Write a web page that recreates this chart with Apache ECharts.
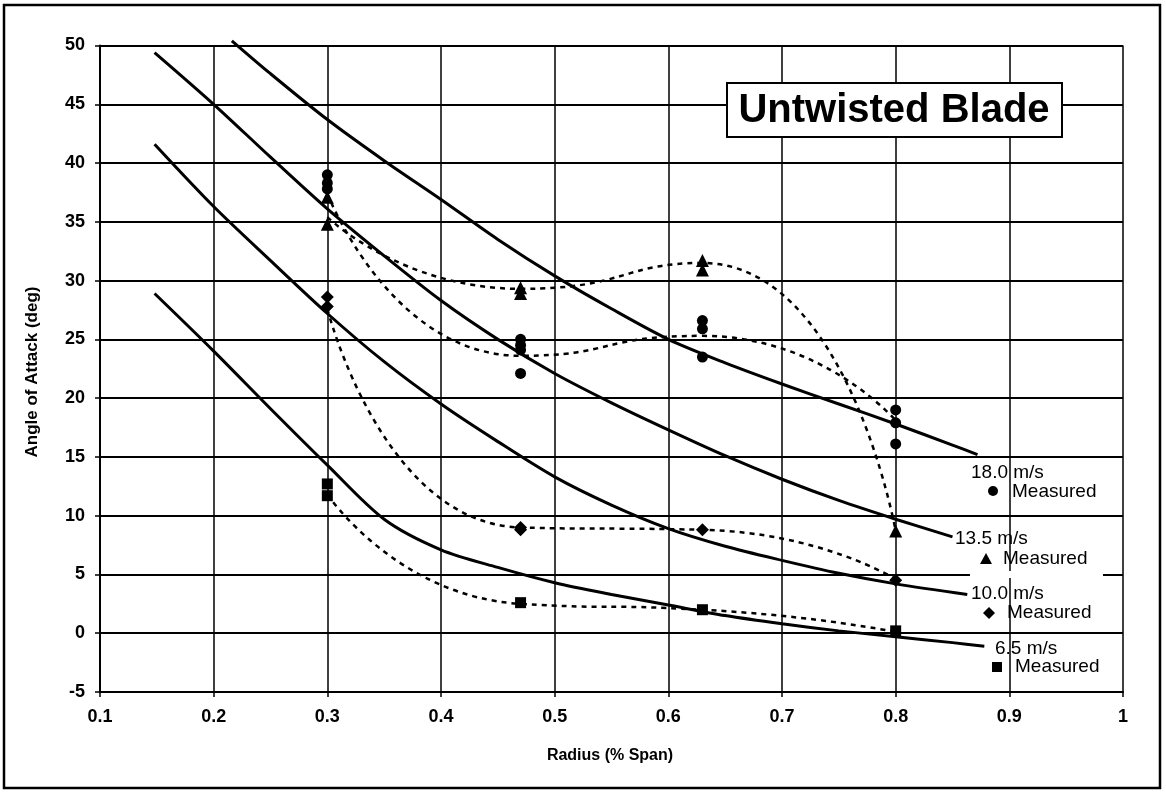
<!DOCTYPE html>
<html>
<head>
<meta charset="utf-8">
<title>Untwisted Blade</title>
<script src="https://cdn.jsdelivr.net/npm/echarts@6/dist/echarts.min.js"></script>
<style>
    html, body { margin: 0; padding: 0; background: #fff; }
    #chart { width: 1166px; height: 793px; }
</style>
</head>
<body>
<div id="chart"></div>
<script>
    //---数据定义区----------------------------------
    // model curves [radius, angle]
    var model180 = [[0.216, 50.4], [0.25, 47.6], [0.3, 43.7], [0.35, 40.2], [0.4, 36.9], [0.45, 33.5], [0.5, 30.4],
        [0.55, 27.6], [0.6, 25.0], [0.65, 23.0], [0.7, 21.2], [0.75, 19.5], [0.8, 17.8], [0.85, 16.0], [0.872, 15.2]];
    var model135 = [[0.148, 49.4], [0.2, 45.0], [0.25, 40.5], [0.3, 36.1], [0.35, 32.1], [0.4, 28.3], [0.45, 25.0],
        [0.5, 22.1], [0.55, 19.6], [0.6, 17.3], [0.65, 15.1], [0.7, 13.1], [0.75, 11.3], [0.8, 9.7], [0.85, 8.2]];
    var model100 = [[0.148, 41.6], [0.2, 36.3], [0.25, 31.7], [0.3, 27.2], [0.35, 23.1], [0.4, 19.5], [0.45, 16.3],
        [0.5, 13.3], [0.55, 10.9], [0.6, 8.9], [0.65, 7.4], [0.7, 6.2], [0.75, 5.1], [0.8, 4.2], [0.863, 3.3]];
    var model65 = [[0.148, 28.9], [0.2, 24.0], [0.25, 19.1], [0.3, 14.3], [0.35, 9.7], [0.4, 7.1], [0.45, 5.6],
        [0.5, 4.3], [0.55, 3.3], [0.6, 2.4], [0.65, 1.5], [0.7, 0.8], [0.75, 0.2], [0.8, -0.3], [0.85, -0.8], [0.878, -1.1]];

    // measured points
    var meas180 = [[0.3, 39.0], [0.3, 38.3], [0.3, 37.8], [0.47, 25.0], [0.47, 24.5], [0.47, 24.1], [0.47, 22.1],
        [0.63, 26.6], [0.63, 25.9], [0.63, 23.5], [0.8, 19.0], [0.8, 17.9], [0.8, 16.1]];
    var meas135 = [[0.3, 37.1], [0.3, 34.8], [0.47, 29.4], [0.47, 28.9], [0.63, 31.7], [0.63, 30.9], [0.8, 8.7]];
    var meas100 = [[0.3, 28.6], [0.3, 27.8], [0.47, 9.0], [0.47, 8.8], [0.63, 8.8], [0.8, 4.5]];
    var meas65 = [[0.3, 12.7], [0.3, 11.7], [0.47, 2.6], [0.63, 2.0], [0.8, 0.2]];

    // dotted trend through measured data
    var trend180 = [[0.3, 37.4], [0.47, 23.6], [0.63, 25.3], [0.8, 18.1]];
    var trend135 = [[0.3, 35.4], [0.47, 29.3], [0.63, 31.5], [0.8, 8.7]];
    var trend100 = [[0.3, 27.6], [0.47, 9.0], [0.63, 8.8], [0.8, 4.6]];
    var trend65 = [[0.3, 11.8], [0.47, 2.5], [0.63, 2.0], [0.8, 0.1]];

    var speedLabels = ['18.0 m/s', '13.5 m/s', '10.0 m/s', '6.5 m/s'];
    var measuredLabel = 'Measured';
    //----------------------------------------------

    //---常量定义区----------------------------------
    var FONT = '"Liberation Sans", Arial, Helvetica, sans-serif';
    var BLACK = '#000';
    //----------------------------------------------

    var _this = {
        modelLine: function (data, clip) {
            return {
                type: 'line', data: data, showSymbol: false, smooth: 0.3, clip: clip,
                lineStyle: { color: BLACK, width: 3 }, z: 3, silent: true
            };
        },
        trendLine: function (data) {
            return {
                type: 'line', data: data, showSymbol: false, smooth: 0.6,
                lineStyle: { color: BLACK, width: 2.5, type: [5, 5] }, z: 2, silent: true
            };
        },
        measured: function (data, symbol, size) {
            return {
                type: 'scatter', data: data, symbol: symbol, symbolSize: size,
                itemStyle: { color: BLACK, opacity: 1 }, z: 4, silent: true
            };
        },
        legendText: function (x, y, str) {
            return {
                type: 'text', x: x, y: y, z: 10,
                style: { text: str, fill: BLACK, font: '19px ' + FONT, textVerticalAlign: 'middle' }
            };
        }
    };

    var initChart = function () {
        var chart = echarts.init(document.getElementById('chart'), null, { renderer: 'canvas' });

        var option = {
            backgroundColor: '#fff',
            animation: false,
            grid: { left: 100, right: 43, top: 45.5, bottom: 101, containLabel: false },
            xAxis: {
                type: 'value', min: 0.1, max: 1, interval: 0.1,
                axisLine: { onZero: false, lineStyle: { color: BLACK, width: 2 } },
                axisTick: { show: true, length: 5, lineStyle: { color: BLACK, width: 1.5 } },
                axisLabel: { color: BLACK, fontFamily: FONT, fontWeight: 'bold', fontSize: 18, margin: 16 },
                splitLine: { show: true, lineStyle: { color: BLACK, width: 1.5 } }
            },
            yAxis: {
                type: 'value', min: -5, max: 50, interval: 5,
                axisLine: { show: true, onZero: false, lineStyle: { color: BLACK, width: 2 } },
                axisTick: { show: true, length: 5, lineStyle: { color: BLACK, width: 1.5 } },
                axisLabel: { color: BLACK, fontFamily: FONT, fontWeight: 'bold', fontSize: 18, margin: 15 },
                splitLine: { show: true, lineStyle: { color: BLACK, width: 2 } }
            },
            series: [
                _this.modelLine(model180, false),
                _this.modelLine(model135, true),
                _this.modelLine(model100, true),
                _this.modelLine(model65, true),
                _this.trendLine(trend180),
                _this.trendLine(trend135),
                _this.trendLine(trend100),
                _this.trendLine(trend65),
                _this.measured(meas180, 'circle', 11),
                _this.measured(meas135, 'triangle', 13),
                _this.measured(meas100, 'diamond', 13),
                _this.measured(meas65, 'rect', 11)
            ],
            graphic: [
                // outer frame
                { type: 'rect', shape: { x: 4, y: 5, width: 1156, height: 783 }, z: 0,
                  style: { fill: 'none', stroke: BLACK, lineWidth: 2.5 } },
                // title box
                { type: 'rect', shape: { x: 727, y: 83, width: 335, height: 54 }, z: 20,
                  style: { fill: '#fff', stroke: BLACK, lineWidth: 2 } },
                { type: 'text', x: 894, y: 111, z: 21,
                  style: { text: 'Untwisted Blade', fill: BLACK, font: 'bold 40px ' + FONT,
                           textAlign: 'center', textVerticalAlign: 'middle' } },
                // axis titles
                { type: 'text', x: 610, y: 756, z: 10,
                  style: { text: 'Radius (% Span)', fill: BLACK, font: 'bold 16px ' + FONT,
                           textAlign: 'center', textVerticalAlign: 'middle' } },
                { type: 'text', x: 32, y: 372, rotation: Math.PI / 2, z: 10,
                  style: { text: 'Angle of Attack (deg)', fill: BLACK, font: 'bold 17px ' + FONT,
                           textAlign: 'center', textVerticalAlign: 'middle' } },
                // white patch under the 13.5 label
                { type: 'rect', shape: { x: 970, y: 571, width: 133, height: 7 }, z: 5,
                  style: { fill: '#fff' } },
                // curve labels
                _this.legendText(971, 473, speedLabels[0]),
                _this.legendText(1012, 492, measuredLabel),
                _this.legendText(955, 539, speedLabels[1]),
                _this.legendText(1003, 559, measuredLabel),
                _this.legendText(971, 594, speedLabels[2]),
                _this.legendText(1007, 613, measuredLabel),
                _this.legendText(995, 649, speedLabels[3]),
                _this.legendText(1015, 667, measuredLabel),
                // legend markers
                { type: 'circle', shape: { cx: 993, cy: 491, r: 5 }, z: 10, style: { fill: BLACK } },
                { type: 'polygon', shape: { points: [[986, 553], [992, 564], [980, 564]] }, z: 10, style: { fill: BLACK } },
                { type: 'polygon', shape: { points: [[989, 607], [995, 613], [989, 619], [983, 613]] }, z: 10, style: { fill: BLACK } },
                { type: 'rect', shape: { x: 992, y: 662, width: 10, height: 10 }, z: 10, style: { fill: BLACK } }
            ]
        };

        chart.setOption(option);
    };

    initChart();
</script>
</body>
</html>
